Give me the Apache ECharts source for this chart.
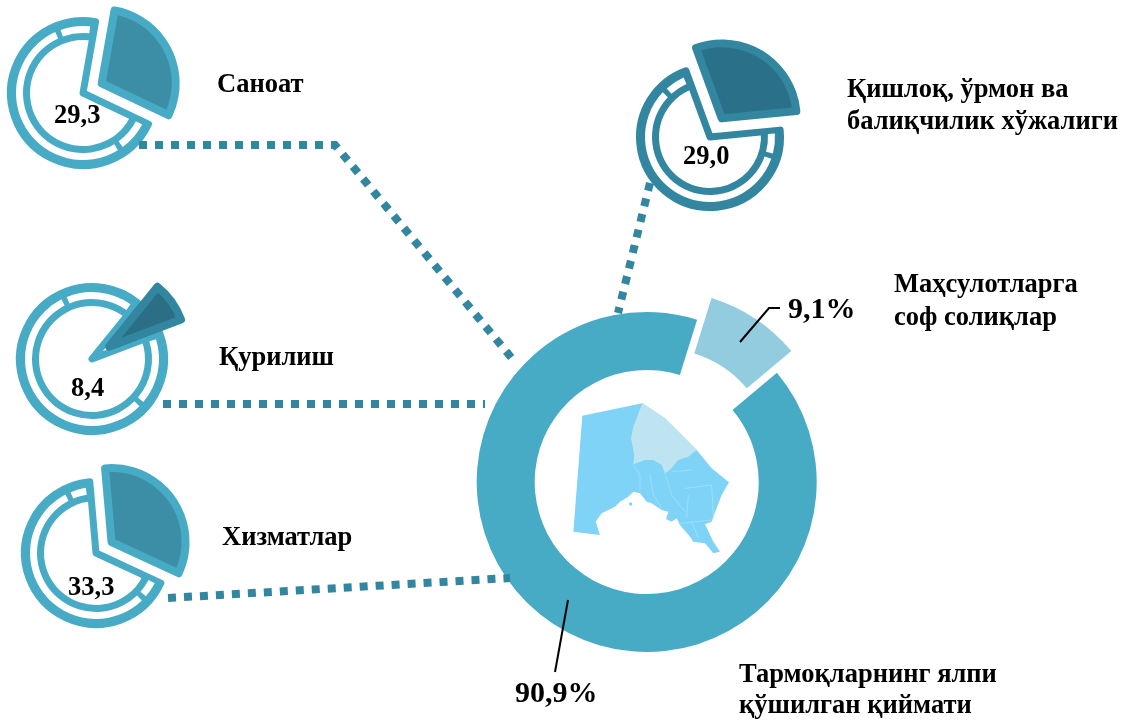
<!DOCTYPE html>
<html>
<head>
<meta charset="utf-8">
<style>
  html, body { margin: 0; padding: 0; background: #fff; }
  #chart { width: 1121px; height: 720px; }
</style>
<script src="https://cdn.jsdelivr.net/npm/echarts@6/dist/echarts.min.js"></script>
</head>
<body>
<div id="chart"></div>
<script>
// main ring
const shareValues = [90.9, 9.1]
const shareLabels = ['90,9%', '9,1%']
const shareNames = [['Тармоқларнинг ялпи', 'қўшилган қиймати'], ['Маҳсулотларга', 'соф солиқлар']]

// small pies
const sectorValues = [29.3, 29.0, 8.4, 33.3]
const sectorLabels = ['29,3', '29,0', '8,4', '33,3']
const sectorNames = [['Саноат'], ['Қишлоқ, ўрмон ва', 'балиқчилик хўжалиги'], ['Қурилиш'], ['Хизматлар']]

const TEAL = '#47abc5'
const DEEP = '#33869f'
const FONT = '"Liberation Serif", serif'

const icons = [
  { c: [83, 93], r: 76, start: 80, offset: 21, valueR: 74, bridge: 30, line: TEAL, edge: TEAL, fill: '#3c8ea6' },
  { c: [710, 137], r: 74, start: 110, offset: 22, valueR: 75, bridge: 22, line: DEEP, edge: DEEP, fill: '#2a7088' },
  { c: [92, 359], r: 76, start: 51, offset: 21, valueR: 77, bridge: 62, line: TEAL, edge: DEEP, fill: '#2a6f85' },
  { c: [96, 553], r: 75, start: 95, offset: 19, valueR: 74, bridge: 18, line: TEAL, edge: TEAL, fill: '#3c8ea6' }
]

const hidden = { color: 'transparent', borderWidth: 0 }

const pieBase = (ic, radius, data) => ({
  type: 'pie',
  silent: true,
  center: ic.c,
  radius,
  startAngle: ic.start,
  label: { show: false },
  labelLine: { show: false },
  emphasis: { disabled: true },
  animation: false,
  data
})

// white gap between the two arcs, cut by two small bridges
const gapSegments = (value, bridge) => {
  const rest = 360 - value * 3.6
  const endGap = 4
  const bridgeW = 5
  const long = rest - 2 * bridge - bridgeW
  const white = { color: '#fff', borderWidth: 0 }
  const seg = [
    [value * 3.6, hidden],
    [endGap, hidden],
    [bridge - endGap, white],
    [bridgeW, hidden],
    [long, white],
    [bridgeW, hidden],
    [bridge - endGap, white],
    [endGap, hidden]
  ]
  return seg.map(s => ({ value: s[0], itemStyle: s[1] }))
}

const iconSeries = []
icons.forEach((ic, i) => {
  const v = sectorValues[i]
  const rest = 100 - v
  const outlined = { color: '#fff', borderColor: ic.line, borderWidth: 7, borderJoin: 'round' }
  iconSeries.push(pieBase(ic, [0, ic.r - 3.5], [
    { value: v, itemStyle: hidden },
    { value: rest, itemStyle: outlined }
  ]))
  iconSeries.push(pieBase(ic, [ic.r - 23, ic.r - 5], [
    { value: v, itemStyle: hidden },
    { value: rest, itemStyle: { color: ic.line, borderWidth: 0 } }
  ]))
  iconSeries.push(pieBase(ic, [ic.r - 16, ic.r - 9], gapSegments(v, ic.bridge)))
  const valueStyle = { color: ic.fill, borderColor: ic.edge, borderWidth: 8, borderJoin: 'round' }
  iconSeries.push(Object.assign(pieBase(ic, [0, ic.valueR], [
    { value: v, selected: true, itemStyle: valueStyle, select: { itemStyle: valueStyle } },
    { value: rest, itemStyle: hidden }
  ]), { selectedMode: 'multiple', selectedOffset: ic.offset }))
})

const mainStyle = { color: TEAL, borderWidth: 0 }
const sideStyle = { color: '#93ccdf', borderWidth: 0 }
const mainSeries = {
  type: 'pie',
  silent: true,
  center: [646.7, 482],
  radius: [112, 170],
  startAngle: 40,
  selectedMode: 'multiple',
  selectedOffset: 26,
  label: { show: false },
  labelLine: { show: false },
  emphasis: { disabled: true },
  animation: false,
  data: [
    { value: shareValues[0], itemStyle: mainStyle },
    { value: shareValues[1], selected: true, itemStyle: sideStyle, select: { itemStyle: sideStyle } }
  ]
}

const dotted = points => ({
  type: 'polyline',
  silent: true,
  z: 5,
  shape: { points },
  style: { fill: null, stroke: DEEP, lineWidth: 8, lineDash: [8, 8] }
})

const leader = points => ({
  type: 'polyline',
  silent: true,
  z: 6,
  shape: { points },
  style: { fill: null, stroke: '#000', lineWidth: 2 }
})

const label = (text, x, y, size) => ({
  type: 'text',
  silent: true,
  z: 10,
  x,
  y,
  style: { text, fontFamily: FONT, fontWeight: 'bold', fontSize: size, fill: '#000', verticalAlign: 'middle' }
})

const nameLabels = []
const namePos = [
  [[217, 85]],
  [[847, 90], [847, 122]],
  [[219, 358]],
  [[222, 538]]
]
sectorNames.forEach((lines, i) => lines.forEach((t, j) => nameLabels.push(label(t, namePos[i][j][0], namePos[i][j][1], 26.5))))
shareNames[0].forEach((t, j) => nameLabels.push(label(t, 739, [675, 706][j], 26.5)))
shareNames[1].forEach((t, j) => nameLabels.push(label(t, 894, [285, 318][j], 26.5)))

const valuePos = [[54, 116], [683, 157], [71, 389], [68, 588]]
const valueLabels = sectorLabels.map((t, i) => label(t, valuePos[i][0], valuePos[i][1], 26.5))

// region outlines
const mapOutline = [[52,62],[232,25],[300,70],[395,165],[440,220],[465,240],[492,262],[470,300],[445,365],[440,380],[420,388],[445,440],[465,470],[445,475],[420,445],[385,440],[375,425],[345,390],[335,370],[320,380],[303,372],[310,350],[290,345],[260,325],[245,320],[225,295],[205,290],[190,305],[165,320],[150,335],[110,355],[92,380],[105,420],[25,410]]
const mapNorth = [[232,25],[300,70],[395,165],[370,185],[340,195],[315,225],[300,235],[290,210],[265,195],[240,195],[205,208],[208,180],[198,130],[205,95]]
const mapBorders = [
  [[205,210],[225,240],[225,290]],
  [[255,240],[265,300],[290,340]],
  [[300,235],[320,300],[360,350]],
  [[320,230],[380,225]],
  [[360,280],[440,270],[445,360]],
  [[370,300],[365,370]],
  [[345,385],[440,375]],
  [[380,380],[400,430]]
]

const mapGroup = {
  type: 'group',
  silent: true,
  x: 565,
  y: 395,
  scaleX: 1 / 3,
  scaleY: 1 / 3,
  children: [
    { type: 'polygon', shape: { points: mapOutline }, style: { fill: '#7fd3f6' } },
    { type: 'polygon', shape: { points: mapNorth }, style: { fill: '#bde4f0' } },
    { type: 'circle', shape: { cx: 197, cy: 327, r: 5 }, style: { fill: '#7fd3f6' } }
  ].concat(mapBorders.map(points => ({
    type: 'polyline',
    shape: { points },
    style: { fill: null, stroke: '#a9e4fa', lineWidth: 2 }
  })))
}

const option = {
  backgroundColor: '#fff',
  series: [mainSeries].concat(iconSeries),
  graphic: {
    elements: [
      dotted([[139, 145], [335, 145], [515, 362]]),
      dotted([[650, 183], [618, 313]]),
      dotted([[163, 404], [485, 404]]),
      dotted([[168, 598], [510, 578]]),
      leader([[740, 342], [769, 308], [780, 308]]),
      leader([[568, 600], [555, 672]]),
      mapGroup,
      label(shareLabels[0], 515, 694, 30),
      label(shareLabels[1], 788, 310, 30)
    ].concat(nameLabels, valueLabels)
  }
}

const chart = echarts.init(document.getElementById('chart'))
chart.setOption(option)
window.addEventListener('resize', () => chart.resize())
</script>
</body>
</html>
